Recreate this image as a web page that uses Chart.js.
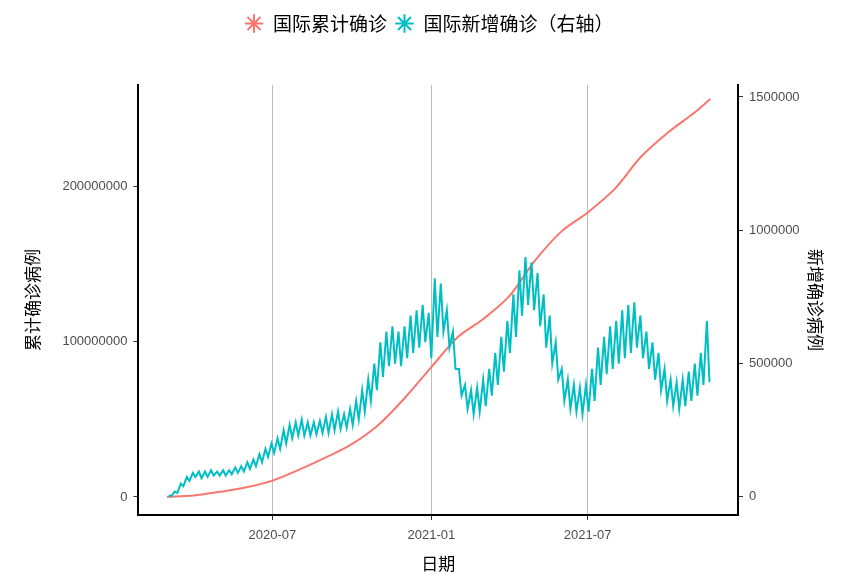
<!DOCTYPE html>
<html>
<head>
<meta charset="utf-8">
<script src="https://cdn.jsdelivr.net/npm/chart.js@4"></script>
<style>
  html, body { margin: 0; padding: 0; background: #fff; }
  #wrap { width: 844px; height: 574px; }
</style>
</head>
<body>
<div id="wrap"><canvas id="c"></canvas></div>
<script>
// day index counted from 2020-03-01
const tickDays = [122, 306, 487];
const tickLabels = ['2020-07', '2021-01', '2021-07'];

// cumulative cases (millions) at day index
const cumDays = [0, 31, 61, 92, 122, 153, 184, 214, 245, 275, 306, 337, 365, 396, 426, 457, 487, 518, 549, 579, 610, 629];
const cumValues = [0.09, 0.9, 3.3, 6.2, 10.5, 17.6, 25.5, 34, 46.5, 63.5, 83.5, 103, 114, 129, 152, 171, 183, 198, 219, 234, 247, 256];

// weekly high / low of daily new cases (thousands), one pair per week
const weekHigh = [5, 20, 50, 75, 90, 95, 95, 100, 95, 100, 100, 110, 115, 130, 140, 160, 180, 200,
  220, 250, 270, 280, 290, 280, 280, 285, 300, 310, 320, 310, 330, 360, 400, 440, 500,
  580, 620, 640, 620, 640, 680, 700, 720, 690, 820, 800, 700, 620, 480, 420, 400, 410,
  440, 480, 540, 600, 660, 760, 850, 900, 880, 840, 760, 680, 580, 480, 440, 420, 410,
  420, 480, 560, 600, 640, 660, 700, 720, 730, 680, 620, 580, 540, 480, 440, 430, 440,
  470, 500, 540, 660];
const weekLow = [3, 15, 40, 60, 75, 70, 75, 80, 80, 80, 85, 90, 95, 105, 115, 130, 150, 165,
  180, 200, 220, 230, 230, 230, 235, 240, 240, 250, 255, 260, 270, 290, 320, 360, 400,
  450, 490, 500, 490, 520, 540, 560, 580, 520, 600, 620, 560, 480, 380, 330, 310, 320,
  340, 380, 420, 470, 540, 600, 680, 720, 700, 640, 560, 500, 440, 360, 330, 320, 310,
  320, 360, 420, 460, 480, 500, 520, 540, 560, 520, 480, 440, 400, 360, 340, 330, 340,
  360, 380, 420, 430];

const cumPoints = cumDays.map((d, i) => ({ x: d, y: cumValues[i] * 1e6 }));
const newPoints = [];
weekHigh.forEach((h, i) => {
  newPoints.push({ x: i * 7 + 2, y: h * 1000 });
  newPoints.push({ x: i * 7 + 5, y: weekLow[i] * 1000 });
});

const tickFont = { family: 'Liberation Sans, Arial', size: 13 };
const titleFont = { family: 'Noto Sans CJK SC', size: 17 };

new Chart(document.getElementById('c'), {
  type: 'line',
  data: {
    datasets: [
      { label: '国际累计确诊', data: cumPoints, yAxisID: 'y', borderColor: '#F8766D', backgroundColor: '#F8766D',
        borderWidth: 2, pointRadius: 0, tension: 0.3, order: 2 },
      { label: '国际新增确诊（右轴）', data: newPoints, yAxisID: 'y1', borderColor: '#00BFC4', backgroundColor: '#00BFC4',
        borderWidth: 2, pointRadius: 0, tension: 0, order: 1 }
    ]
  },
  options: {
    responsive: true,
    maintainAspectRatio: false,
    animation: false,
    layout: { padding: { left: 22, right: 8, top: 6, bottom: 0 } },
    plugins: {
      legend: {
        position: 'top',
        labels: {
          usePointStyle: true, pointStyle: 'star', color: '#000', boxHeight: 13,
          font: { family: 'Noto Sans CJK SC', size: 19 }, padding: 8,
          sort: (a, b) => a.datasetIndex - b.datasetIndex
        }
      },
      tooltip: { enabled: false }
    },
    scales: {
      x: {
        type: 'linear', min: -33, max: 661,
        afterBuildTicks: axis => { axis.ticks = tickDays.map(v => ({ value: v })); },
        ticks: { callback: v => tickLabels[tickDays.indexOf(v)], color: '#4d4d4d', font: tickFont, maxRotation: 0, padding: 8 },
        grid: { color: '#bdbdbd', drawTicks: true, tickColor: '#333', tickLength: 5 },
        border: { color: '#000', width: 2 },
        title: { display: true, text: '日期', color: '#000', font: titleFont, padding: { top: 2, bottom: 0 } }
      },
      y: {
        position: 'left', min: -11.6e6, max: 265e6,
        afterBuildTicks: axis => { axis.ticks = [0, 1e8, 2e8].map(v => ({ value: v })); },
        ticks: { color: '#4d4d4d', font: tickFont, callback: v => String(v), padding: 6 },
        grid: { display: true, drawOnChartArea: false, drawTicks: true, tickLength: 5, tickColor: '#333' },
        border: { color: '#000', width: 2 },
        title: { display: true, text: '累计确诊病例', color: '#000', font: titleFont, padding: { top: 0, bottom: 14 } }
      },
      y1: {
        position: 'right', min: -68000, max: 1545000,
        afterBuildTicks: axis => { axis.ticks = [0, 5e5, 1e6, 1.5e6].map(v => ({ value: v })); },
        ticks: { color: '#4d4d4d', font: tickFont, callback: v => String(v), padding: 6 },
        grid: { display: true, drawOnChartArea: false, drawTicks: true, tickLength: 5, tickColor: '#333' },
        border: { color: '#000', width: 2 },
        title: { display: true, text: '新增确诊病例', color: '#000', font: titleFont, padding: { top: 10, bottom: 0 } }
      }
    }
  },
  plugins: [{
    id: 'legendGap',
    beforeInit(chart) {
      const fit = chart.legend.fit;
      chart.legend.fit = function () { fit.bind(chart.legend)(); this.height += 42; };
    }
  }]
});
</script>
</body>
</html>
